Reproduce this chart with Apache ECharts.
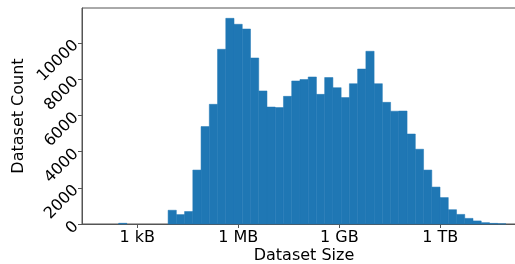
<!DOCTYPE html>
<html>
<head>
<meta charset="utf-8">
<script src="https://cdn.jsdelivr.net/npm/echarts@6/dist/echarts.min.js"></script>
<style>
  html, body { margin: 0; padding: 0; background: #fff; }
  #chart { width: 515px; height: 264px; }
</style>
</head>
<body>
<div id="chart"></div>
<script>
// histogram of dataset sizes, bins in log10(bytes)
const binLow = 1.957;
const binHigh = 13.95;
const counts = [
  0, 0, 40, 0, 0, 0, 0, 0,
  760, 520, 690, 2980, 5380, 6610, 9650, 11360, 11030, 10770,
  9170, 7350, 6460, 6430, 7050, 7900, 7980, 8120, 7160, 8090,
  7530, 6980, 7750, 8560, 9540, 7750, 6720, 6230, 6240, 4970,
  4130, 2980, 2040, 1460, 790, 530, 310, 170, 75, 35, 10
];
const sizeTicks = [3, 6, 9, 12];
const sizeLabels = ['1 kB', '1 MB', '1 GB', '1 TB'];
const countTicks = [0, 2000, 4000, 6000, 8000, 10000];

const step = (binHigh - binLow) / counts.length;
const bins = counts.map((c, i) => [binLow + i * step, binLow + (i + 1) * step, c]);

const chart = echarts.init(document.getElementById('chart'));

const axisColor = '#555';

chart.setOption({
  animation: false,
  textStyle: { fontFamily: 'DejaVu Sans' },
  grid: {
    left: 82, top: 8, right: -11, bottom: 40,
    outerBoundsMode: 'none',
    containLabel: false,
    show: true, borderColor: axisColor, borderWidth: 1
  },
  xAxis: {
    type: 'value',
    min: 1.358,
    max: 14.545,
    name: 'Dataset Size',
    nameLocation: 'middle',
    nameGap: 24,
    nameMoveOverlap: false,
    nameTextStyle: { fontSize: 16, color: '#000' },
    axisLine: { lineStyle: { color: axisColor } },
    axisTick: { customValues: sizeTicks, length: 4, lineStyle: { color: axisColor } },
    axisLabel: {
      customValues: sizeTicks,
      formatter: (v) => sizeLabels[sizeTicks.indexOf(v)],
      fontSize: 16, color: '#000', margin: 6
    },
    splitLine: { show: false }
  },
  yAxis: {
    type: 'value',
    min: 0,
    max: 11930,
    name: 'Dataset Count',
    nameLocation: 'middle',
    nameGap: 55,
    nameMoveOverlap: false,
    nameTextStyle: { fontSize: 16, color: '#000' },
    axisLine: { show: true, lineStyle: { color: axisColor } },
    axisTick: { show: true, customValues: countTicks, length: 4, lineStyle: { color: axisColor } },
    axisLabel: {
      customValues: countTicks,
      formatter: (v) => String(v),
      rotate: 45,
      fontSize: 16, color: '#000', margin: 6
    },
    splitLine: { show: false }
  },
  series: [
    {
      type: 'custom',
      data: bins,
      encode: { x: [0, 1], y: 2 },
      renderItem: (params, api) => {
        if (!api.value(2)) return null;
        const top = api.coord([api.value(0), api.value(2)]);
        const base = api.coord([api.value(1), 0]);
        return {
          type: 'rect',
          shape: { x: top[0], y: top[1], width: base[0] - top[0], height: base[1] - top[1] },
          style: { fill: '#1f77b4', stroke: '#1f77b4', lineWidth: 0.5 }
        };
      }
    }
  ]
});
</script>
</body>
</html>
